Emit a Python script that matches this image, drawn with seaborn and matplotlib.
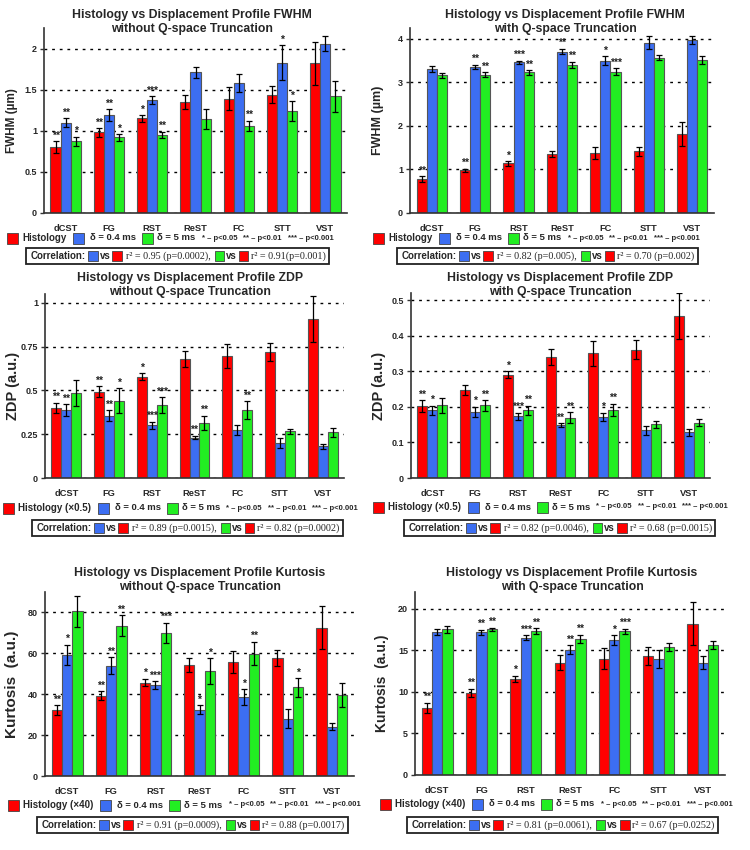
import numpy as np
import pandas as pd
import matplotlib
matplotlib.use("Agg")
import matplotlib.pyplot as plt
import seaborn as sns
from matplotlib.patches import Rectangle
from matplotlib.container import BarContainer

# ---------------- data ----------------
categories = ["dCST", "FG", "RST", "ReST", "FC", "STT", "VST"]
series = ["Histology", "d04", "d5"]
colors = ["#ff0000", "#3c6ef2", "#22ee22"]

# Panel 1: FWHM without Q-space truncation
fwhm_nt_hist = [0.80, 0.98, 1.15, 1.35, 1.39, 1.44, 1.82]
fwhm_nt_d04 = [1.10, 1.19, 1.37, 1.71, 1.58, 1.83, 2.06]
fwhm_nt_d5 = [0.87, 0.92, 0.95, 1.14, 1.06, 1.24, 1.42]
fwhm_nt_hist_err = [0.07, 0.05, 0.04, 0.09, 0.14, 0.10, 0.26]
fwhm_nt_d04_err = [0.05, 0.07, 0.05, 0.07, 0.11, 0.21, 0.09]
fwhm_nt_d5_err = [0.06, 0.04, 0.04, 0.12, 0.06, 0.12, 0.19]
fwhm_nt_hist_sig = ["**", "**", "*", "", "", "", ""]
fwhm_nt_d04_sig = ["**", "**", "***", "", "", "*", ""]
fwhm_nt_d5_sig = ["*", "*", "**", "", "**", "*", ""]

# Panel 2: FWHM with Q-space truncation
fwhm_t_hist = [0.78, 0.98, 1.14, 1.35, 1.38, 1.42, 1.81]
fwhm_t_d04 = [3.31, 3.35, 3.46, 3.71, 3.50, 3.91, 3.97]
fwhm_t_d5 = [3.16, 3.18, 3.23, 3.41, 3.25, 3.57, 3.52]
fwhm_t_hist_err = [0.06, 0.04, 0.05, 0.07, 0.13, 0.10, 0.27]
fwhm_t_d04_err = [0.06, 0.05, 0.04, 0.06, 0.10, 0.15, 0.09]
fwhm_t_d5_err = [0.06, 0.05, 0.05, 0.07, 0.07, 0.06, 0.09]
fwhm_t_hist_sig = ["**", "**", "*", "", "", "", ""]
fwhm_t_d04_sig = ["", "**", "***", "**", "*", "", ""]
fwhm_t_d5_sig = ["", "**", "**", "**", "***", "", ""]

# Panel 3: ZDP without Q-space truncation
zdp_nt_hist = [0.40, 0.493, 0.577, 0.679, 0.696, 0.719, 0.908]
zdp_nt_d04 = [0.386, 0.356, 0.302, 0.231, 0.275, 0.199, 0.180]
zdp_nt_d5 = [0.484, 0.442, 0.415, 0.315, 0.388, 0.266, 0.260]
zdp_nt_hist_err = [0.03, 0.03, 0.02, 0.045, 0.07, 0.05, 0.13]
zdp_nt_d04_err = [0.035, 0.03, 0.02, 0.01, 0.03, 0.03, 0.015]
zdp_nt_d5_err = [0.075, 0.07, 0.045, 0.04, 0.05, 0.015, 0.025]
zdp_nt_hist_sig = ["**", "**", "*", "", "", "", ""]
zdp_nt_d04_sig = ["**", "**", "***", "**", "", "", ""]
zdp_nt_d5_sig = ["", "*", "***", "**", "**", "", ""]

# Panel 4: ZDP with Q-space truncation
zdp_t_hist = [0.202, 0.248, 0.290, 0.340, 0.350, 0.361, 0.455]
zdp_t_d04 = [0.190, 0.186, 0.174, 0.148, 0.171, 0.134, 0.128]
zdp_t_d5 = [0.204, 0.204, 0.190, 0.170, 0.191, 0.151, 0.156]
zdp_t_hist_err = [0.016, 0.014, 0.010, 0.023, 0.035, 0.027, 0.065]
zdp_t_d04_err = [0.013, 0.014, 0.010, 0.006, 0.012, 0.012, 0.009]
zdp_t_d5_err = [0.020, 0.015, 0.013, 0.015, 0.018, 0.010, 0.009]
zdp_t_hist_sig = ["**", "", "*", "", "", "", ""]
zdp_t_d04_sig = ["*", "*", "***", "**", "*", "", ""]
zdp_t_d5_sig = ["", "**", "**", "**", "**", "", ""]

# Panel 5: Kurtosis without Q-space truncation
kurt_nt_hist = [32.2, 39.3, 45.7, 54.2, 55.8, 57.6, 72.5]
kurt_nt_d04 = [59.1, 54.0, 44.4, 32.5, 38.5, 28.1, 24.2]
kurt_nt_d5 = [80.5, 73.6, 69.9, 51.3, 59.9, 43.3, 39.5]
kurt_nt_hist_err = [2.5, 2.2, 1.8, 3.5, 5.5, 4.0, 10.5]
kurt_nt_d04_err = [5.0, 4.0, 2.0, 2.0, 4.0, 4.7, 1.8]
kurt_nt_d5_err = [7.7, 5.0, 5.0, 6.2, 5.8, 4.5, 5.8]
kurt_nt_hist_sig = ["**", "**", "*", "", "", "", ""]
kurt_nt_d04_sig = ["*", "**", "***", "*", "*", "", ""]
kurt_nt_d5_sig = ["", "**", "***", "*", "**", "*", ""]

# Panel 6: Kurtosis with Q-space truncation
kurt_t_hist = [8.08, 9.84, 11.56, 13.52, 14.0, 14.32, 18.2]
kurt_t_d04 = [17.24, 17.16, 16.48, 15.08, 16.2, 13.92, 13.52]
kurt_t_d5 = [17.52, 17.52, 17.28, 16.36, 17.28, 15.4, 15.6]
kurt_t_hist_err = [0.6, 0.5, 0.4, 0.9, 1.3, 1.1, 2.6]
kurt_t_d04_err = [0.35, 0.3, 0.3, 0.5, 0.6, 1.1, 0.8]
kurt_t_d5_err = [0.4, 0.2, 0.35, 0.5, 0.3, 0.45, 0.5]
kurt_t_hist_sig = ["**", "**", "*", "", "", "", ""]
kurt_t_d04_sig = ["", "**", "***", "**", "*", "", ""]
kurt_t_d5_sig = ["", "**", "**", "**", "***", "", ""]

titles = [
    "Histology vs Displacement Profile FWHM\nwithout Q-space Truncation",
    "Histology vs Displacement Profile FWHM\nwith Q-space Truncation",
    "Histology vs Displacement Profile ZDP\nwithout Q-space Truncation",
    "Histology vs Displacement Profile ZDP\nwith Q-space Truncation",
    "Histology vs Displacement Profile Kurtosis\nwithout Q-space Truncation",
    "Histology vs Displacement Profile Kurtosis\nwith Q-space Truncation",
]
ylabels = ["FWHM (µm)", "FWHM (µm)", "ZDP (a.u.)", "ZDP (a.u.)",
           "Kurtosis  (a.u.)", "Kurtosis  (a.u.)"]
yticks_list = [[0, 0.5, 1, 1.5, 2], [0, 1, 2, 3, 4],
               [0, 0.25, 0.5, 0.75, 1], [0, 0.1, 0.2, 0.3, 0.4, 0.5],
               [0, 20, 40, 60, 80], [0, 5, 10, 15, 20]]
ytick_labels = [["0", "0.5", "1", "1.5", "2"], ["0", "1", "2", "3", "4"],
                ["0", "0.25", "0.5", "0.75", "1"], ["0", "0.1", "0.2", "0.3", "0.4", "0.5"],
                ["0", "20", "40", "60", "80"], ["0", "5", "10", "15", "20"]]
ymax = [2.25, 4.25, 1.05, 0.52, 90, 22]
hist_labels = ["Histology", "Histology", "Histology (×0.5)", "Histology (×0.5)",
               "Histology (×40)", "Histology (×40)"]
r2_blue = ["r² = 0.95 (p=0.0002),", "r² = 0.82 (p=0.005),", "r² = 0.89 (p=0.0015),",
           "r² = 0.82 (p=0.0046),", "r² = 0.91 (p=0.0009),", "r² = 0.81 (p=0.0061),"]
r2_green = ["r² = 0.91(p=0.001)", "r² = 0.70 (p=0.002)", "r² = 0.82 (p=0.0002)",
            "r² = 0.68 (p=0.0015)", "r² = 0.88 (p=0.0017)", "r² = 0.67 (p=0.0252)"]

panels = [
    ([fwhm_nt_hist, fwhm_nt_d04, fwhm_nt_d5], [fwhm_nt_hist_err, fwhm_nt_d04_err, fwhm_nt_d5_err],
     [fwhm_nt_hist_sig, fwhm_nt_d04_sig, fwhm_nt_d5_sig]),
    ([fwhm_t_hist, fwhm_t_d04, fwhm_t_d5], [fwhm_t_hist_err, fwhm_t_d04_err, fwhm_t_d5_err],
     [fwhm_t_hist_sig, fwhm_t_d04_sig, fwhm_t_d5_sig]),
    ([zdp_nt_hist, zdp_nt_d04, zdp_nt_d5], [zdp_nt_hist_err, zdp_nt_d04_err, zdp_nt_d5_err],
     [zdp_nt_hist_sig, zdp_nt_d04_sig, zdp_nt_d5_sig]),
    ([zdp_t_hist, zdp_t_d04, zdp_t_d5], [zdp_t_hist_err, zdp_t_d04_err, zdp_t_d5_err],
     [zdp_t_hist_sig, zdp_t_d04_sig, zdp_t_d5_sig]),
    ([kurt_nt_hist, kurt_nt_d04, kurt_nt_d5], [kurt_nt_hist_err, kurt_nt_d04_err, kurt_nt_d5_err],
     [kurt_nt_hist_sig, kurt_nt_d04_sig, kurt_nt_d5_sig]),
    ([kurt_t_hist, kurt_t_d04, kurt_t_d5], [kurt_t_hist_err, kurt_t_d04_err, kurt_t_d5_err],
     [kurt_t_hist_sig, kurt_t_d04_sig, kurt_t_d5_sig]),
]

# ---------------- layout (pixels, origin top-left) ----------------
W, H = 750, 850
ax_box = [(44, 347, 28, 213), (410, 714, 28, 213),
          (45, 344, 294, 478), (411, 710, 293, 478),
          (45, 354, 592, 776), (415, 725, 592, 775)]
title_pos = [(192, 22), (565, 22), (190, 285), (560, 285), (200, 580), (572, 580)]
ylabel_size = [8.5, 9, 10.5, 10.5, 11, 10]
legend_pos = [(7, 238), (373, 238), (3, 508), (373, 507), (8, 805), (380, 804)]
corr_pos = [(31, 256), (402, 256), (37, 528), (409, 528), (42, 825), (412, 825)]

sns.set_theme(style="white")
plt.rcParams["font.family"] = ["Liberation Sans", "DejaVu Sans"]

fig = plt.figure(figsize=(7.5, 8.5), dpi=100)
fig.patch.set_facecolor("white")


def fx(x):
    return x / W


def fy(y):
    return 1 - y / H


BOLD = dict(fontweight="bold", fontsize=7, family=["Liberation Sans", "DejaVu Sans"])
DELTA = dict(fontweight="bold", fontsize=6.8, family=["Liberation Sans", "DejaVu Sans"])
SERIF = dict(fontsize=7.3, family=["Liberation Serif", "DejaVu Serif"])
SMALL = dict(fontweight="bold", fontsize=5.5, family=["Liberation Sans", "DejaVu Sans"])

renderer = fig.canvas.get_renderer()


def draw_row(x0, y, items):
    x = x0
    for it in items:
        if it[0] == "sq":
            s = it[2]
            fig.patches.append(Rectangle((fx(x), fy(y + s / 2)), s / W, s / H,
                                         transform=fig.transFigure, facecolor=it[1],
                                         edgecolor="#444444", lw=0.6))
            x += s + it[3]
        else:
            t = fig.text(fx(x), fy(y), it[1], va="center", ha="left", **it[2])
            bb = t.get_window_extent(renderer)
            x += bb.width + it[3]
    return x


for i, (vals, errs, sigs) in enumerate(panels):
    l, r, t, b = ax_box[i]
    ax = fig.add_axes([fx(l), fy(b), (r - l) / W, (b - t) / H])
    df = pd.DataFrame({
        "category": np.tile(categories, 3),
        "series": np.repeat(series, len(categories)),
        "value": np.concatenate([vals[0], vals[1], vals[2]]),
    })
    sns.barplot(data=df, x="category", y="value", hue="series", order=categories,
                hue_order=series, palette=colors, width=0.7, errorbar=None,
                edgecolor="#555555", linewidth=0.8, saturation=1, legend=False, ax=ax)
    bar_conts = [c for c in ax.containers if isinstance(c, BarContainer)]
    for k, cont in enumerate(bar_conts):
        xs = [p.get_x() + p.get_width() / 2 for p in cont.patches]
        ax.errorbar(xs, vals[k], yerr=errs[k], fmt="none", ecolor="black",
                    elinewidth=0.9, capsize=2, capthick=0.9, zorder=5)
        for xx, v, e, s in zip(xs, vals[k], errs[k], sigs[k]):
            if s:
                ax.annotate(s, xy=(xx, v + e), xytext=(0, 0.5), textcoords="offset points",
                            ha="center", va="bottom", fontsize=7.5, fontweight="bold",
                            color="#222222")
    ax.set_ylim(0, ymax[i])
    ax.set_xlim(-0.5, len(categories) - 0.5)
    ax.set_yticks(yticks_list[i])
    ax.set_yticklabels(ytick_labels[i], fontsize=6.5, fontweight="bold")
    ax.set_xticks(range(len(categories)))
    ax.set_xticklabels(categories, fontsize=6.7, fontweight="bold")
    ax.set_xticks(np.arange(-0.5, len(categories), 1.0), minor=True)
    ax.tick_params(axis="x", which="major", length=0, pad=8)
    ax.tick_params(axis="x", which="minor", length=3, width=1, direction="out", color="#333333")
    ax.tick_params(axis="y", length=3, width=1, direction="out", color="#333333", pad=2, left=True)
    ax.set_xlabel("")
    ax.set_ylabel(ylabels[i], fontsize=ylabel_size[i], fontweight="bold")
    ax.yaxis.set_label_coords(-0.085, 0.5)
    ax.set_axisbelow(True)
    ax.yaxis.grid(True, linestyle=(0, (2, 3.5)), color="black", linewidth=1.0)
    ax.xaxis.grid(False)
    for sp in ["top", "right"]:
        ax.spines[sp].set_visible(False)
    for sp in ["left", "bottom"]:
        ax.spines[sp].set_color("#333333")
        ax.spines[sp].set_linewidth(1.2)
    ax.set_facecolor("white")

    tx, ty = title_pos[i]
    fig.text(fx(tx), fy(ty), titles[i], ha="center", va="center", fontsize=8.8,
             fontweight="bold", linespacing=1.15)

    lx, ly = legend_pos[i]
    draw_row(lx, ly, [
        ("sq", colors[0], 11, 4), ("txt", hist_labels[i], BOLD, 7),
        ("sq", colors[1], 11, 6), ("txt", "δ = 0.4 ms", DELTA, 6),
        ("sq", colors[2], 11, 4), ("txt", "δ = 5 ms", DELTA, 6),
        ("txt", "* – p<0.05", SMALL, 6),
        ("txt", "** – p<0.01", SMALL, 6),
        ("txt", "*** – p<0.001", SMALL, 0),
    ])

    cx, cy = corr_pos[i]
    end = draw_row(cx, cy, [
        ("txt", "Correlation:", BOLD, 2),
        ("sq", colors[1], 9.5, 2), ("txt", "vs", BOLD, 2),
        ("sq", colors[0], 9.5, 4), ("txt", r2_blue[i], SERIF, 4),
        ("sq", colors[2], 9.5, 2), ("txt", "vs", BOLD, 2),
        ("sq", colors[0], 9.5, 3), ("txt", r2_green[i], SERIF, 0),
    ])
    fig.patches.append(Rectangle((fx(cx - 5), fy(cy + 8)), (end - cx + 8) / W, 16 / H,
                                 transform=fig.transFigure, facecolor="none",
                                 edgecolor="#222222", lw=1.3))

fig.savefig("out.png", dpi=100, facecolor="white")
